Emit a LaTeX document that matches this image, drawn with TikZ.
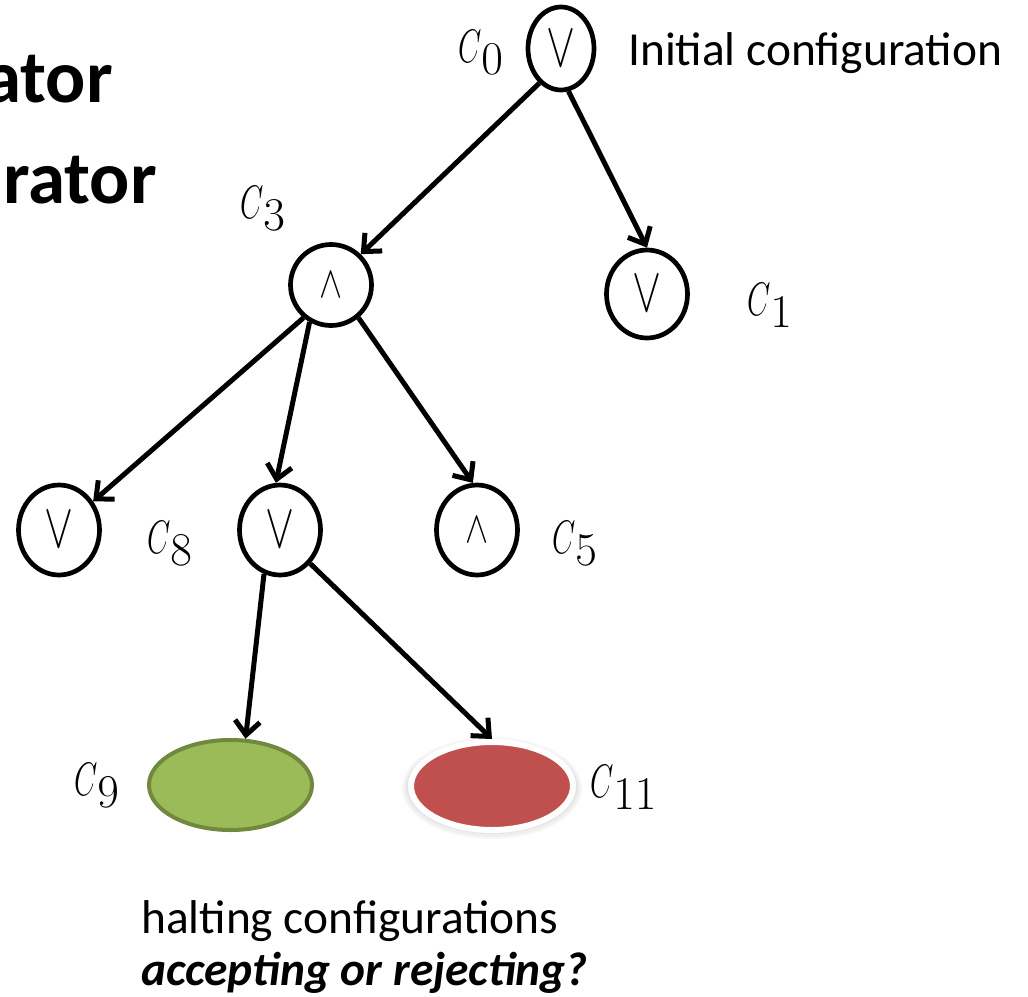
\RequirePackage{fix-cm}
\documentclass[tikz,border=0pt]{standalone}
\usepackage[no-math]{fontspec}
\setmainfont{Carlito}
\usetikzlibrary{arrows.meta,shapes.geometric}
\definecolor{accgreen}{HTML}{9BBB59}
\definecolor{accgreenline}{HTML}{71893F}
\definecolor{rejred}{HTML}{C0504D}
% configuration label: narrow italic C with a lowered full-size index
\newcommand\cfglabel[1]{\scalebox{0.64}[1]{$C$}\raisebox{-12pt}{$#1$}}
% gate symbols
\newcommand\orsym{{\fontsize{58}{60}\selectfont\scalebox{0.75}[1.1]{$\vee$}}}
\newcommand\andsym{{\fontsize{45}{50}\selectfont\scalebox{0.77}[1]{$\wedge$}}}
\begin{document}
\begin{tikzpicture}[x=1pt,y=-1pt,
  gate/.style={draw, line width=4.7pt, ellipse, inner sep=0pt,
    minimum width=81pt, minimum height=90pt},
  cfg/.style={anchor=base west, inner sep=0pt, font=\fontsize{47}{56}\selectfont},
  arr/.style={line width=5pt, -{Straight Barb[length=14pt,width=25pt]}},
  body/.style={anchor=base west, inner sep=0pt, font=\fontsize{47.4}{57}\selectfont},
  title/.style={anchor=base east, inner sep=0pt, font=\bfseries\fontsize{75}{90}\selectfont}]
\clip (0,0) rectangle (1028,996);
\fill[white] (0,0) rectangle (1028,996);

% slide title fragments
\node[title] (t1) at (113,102) {ator};
\node[title] (t2) at (157,203) {rator};

% configuration tree
\node[gate, minimum width=66pt, minimum height=83pt] (c0) at (561,48.5) {\orsym};
\node[gate, minimum height=81pt] (c3) at (331,285) {\andsym};
\node[gate, minimum height=88pt] (c1) at (647,294) {\orsym};
\node[gate] (c8) at (59,530) {\orsym};
\node[gate] (mid) at (280,530) {\orsym};
\node[gate] (c5) at (477,530) {\andsym};

% halting configurations
\node[ellipse, fill=accgreen, draw=accgreenline, line width=4pt,
  minimum width=163pt, minimum height=90pt] (c9) at (230.5,785) {};
\fill[black, opacity=0.03] (492,788) ellipse [x radius=90, y radius=51];
\fill[black, opacity=0.03] (492,788) ellipse [x radius=88, y radius=49];
\fill[black, opacity=0.04] (492,787) ellipse [x radius=86, y radius=47];
\node[ellipse, fill=rejred, draw=white, line width=6pt,
  minimum width=162pt, minimum height=88pt] (c11) at (492,786) {};

% transitions
\draw[arr] (c0.-122) -- (c3.46);
\draw[arr] (c0.-80) -- (c1.north);
\draw[arr] (c3.-130) -- (c8.40);
\draw[arr] (c3.-120) -- (mid.95);
\draw[arr] (c3.-50) -- (c5.95);
\draw[arr] (mid.-110) -- (c9.72);
\draw[arr] (mid.-48) -- (c11.north);

% labels
\node[cfg] (l0) at (458,62) {\cfglabel{0}};
\node[cfg] (l3) at (240,218) {\cfglabel{3}};
\node[cfg] (l1) at (747,315) {\cfglabel{1}};
\node[cfg] (l8) at (147,553) {\cfglabel{8}};
\node[cfg] (l5) at (552,553) {\cfglabel{5}};
\node[cfg] (l9) at (74,795) {\cfglabel{9}};
\node[cfg] (l11) at (590,797) {\cfglabel{11}};

\node[body] (init) at (628,65) {Initial configuration};
\node[body] (halt) at (141,933) {halting configurations};
\node[body, font=\bfseries\itshape\fontsize{47.4}{57}\selectfont] (ask) at (141,985) {accepting or rejecting?};
\end{tikzpicture}
\end{document}
